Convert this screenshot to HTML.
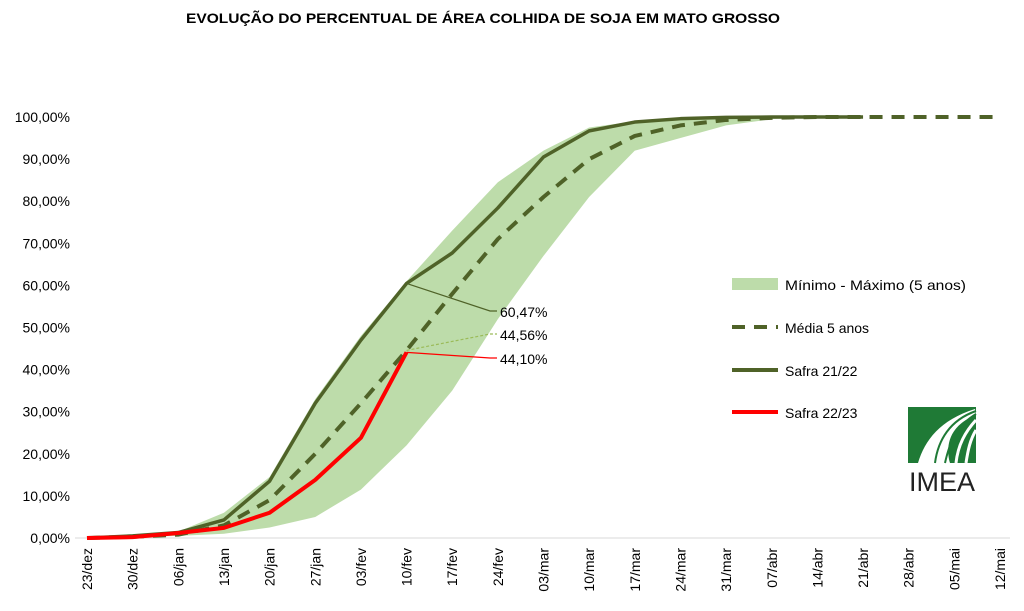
<!DOCTYPE html>
<html><head><meta charset="utf-8"><style>
body{margin:0;background:#fff;font-family:"Liberation Sans",sans-serif}
svg text{font-family:"Liberation Sans",sans-serif}
</style></head><body>
<svg id="c" width="1024" height="606" xmlns="http://www.w3.org/2000/svg">
<text x="483" y="23" text-anchor="middle" font-size="14" font-weight="bold" fill="#000" textLength="594" lengthAdjust="spacingAndGlyphs">EVOLUÇÃO DO PERCENTUAL DE ÁREA COLHIDA DE SOJA EM MATO GROSSO</text>
<g id="band"></g><g id="grid"></g><g id="lines"></g><g id="ylab"></g><g id="xlab"></g>
<g>
<rect x="732" y="278" width="46" height="12" fill="#bddcaa"/>
<text x="785" y="290" font-size="14" fill="#000" textLength="181" lengthAdjust="spacingAndGlyphs">Mínimo - Máximo (5 anos)</text>
<line x1="732" y1="327" x2="778" y2="327" stroke="#4f6228" stroke-width="4" stroke-dasharray="13,9"/>
<text x="785" y="333" font-size="14" fill="#000">Média 5 anos</text>
<line x1="732" y1="370" x2="778" y2="370" stroke="#4f6228" stroke-width="4"/>
<text x="785" y="376" font-size="14" fill="#000">Safra 21/22</text>
<line x1="732" y1="412" x2="778" y2="412" stroke="#ff0000" stroke-width="4"/>
<text x="785" y="418" font-size="14" fill="#000">Safra 22/23</text>
</g>
<g>
<rect x="908" y="407" width="68" height="56" fill="#1f7a36"/>
<path d="M918 463 C925 440 940 420 975 409 L976 415 C950 425 945 445 950 463 Z" fill="#fff"/>
<path d="M935 463 C938 440 950 420 976 411" stroke="#1f7a36" stroke-width="2" fill="none"/>
<path d="M945 463 C950 440 958 425 976 414" stroke="#1f7a36" stroke-width="2" fill="none"/>
<path d="M956 463 C958 445 965 432 976 420" stroke="#fff" stroke-width="3" fill="none"/>
<path d="M966 463 C968 450 970 440 976 430" stroke="#fff" stroke-width="3" fill="none"/>
<text x="942" y="491" text-anchor="middle" font-size="27" fill="#222" textLength="66">IMEA</text>
</g>
</svg>
<script>
const categories=["23/dez","30/dez","06/jan","13/jan","20/jan","27/jan","03/fev","10/fev","17/fev","24/fev","03/mar","10/mar","17/mar","24/mar","31/mar","07/abr","14/abr","21/abr","28/abr","05/mai","12/mai"];
const yTicks=[0,10,20,30,40,50,60,70,80,90,100];
const minVals=[0,0.2,0.5,1,2.5,5,11.5,22,35,52,67,81,92,95,98,99.5,100,100];
const maxVals=[0,0.5,1.5,6,14.5,33,48,61,73,84.5,92,97.5,99,99.8,100,100,100,100];
const media=[0,0.3,0.8,3,9,20,32,44.56,58,71,81,90,95.5,98,99.3,99.8,100,100,100,100,100];
const safra2122=[0,0.5,1.3,4.3,13.5,32,47,60.47,67.7,78.4,90.5,96.7,98.8,99.6,99.9,100,100,100];
const safra2223=[0,0.2,1.2,2.4,6,13.8,23.8,44.1];
const X=i=>87+i*45.65, Y=v=>538-v*4.21;
const NS="http://www.w3.org/2000/svg";
function mk(t,a,p){const e=document.createElementNS(NS,t);for(const k in a)e.setAttribute(k,a[k]);document.getElementById(p).appendChild(e);return e;}
let d="";maxVals.forEach((v,i)=>d+=(i?"L":"M")+X(i)+" "+Y(v));
for(let i=minVals.length-1;i>=0;i--)d+="L"+X(i)+" "+Y(minVals[i]);
let b=mk("path",{d:d+"Z",fill:"#bddcaa"},"band");


let ax=mk("line",{x1:75,x2:1010,y1:538,y2:538,stroke:"#d9d9d9","stroke-width":1},"grid");


function pl(arr,attrs,name){let p=mk("polyline",Object.assign({points:arr.map((v,i)=>X(i)+","+Y(v)).join(" "),fill:"none","stroke-linejoin":"round"},attrs),"lines");

}
pl(safra2122,{stroke:"#4f6228","stroke-width":3.5},"safra-2122-line");
pl(media,{stroke:"#4f6228","stroke-width":4,"stroke-dasharray":"13,9"},"media-5-anos-line");
pl(safra2223,{stroke:"#ff0000","stroke-width":4},"safra-2223-line");
const li=7;
[[safra2122[li],313,"#4f6228","60,47%"],[media[li],336,"#9bbb59","44,56%"],[safra2223[li],360,"#ff0000","44,10%"]].forEach((c,k)=>{
let l=mk("polyline",{points:X(li)+","+Y(c[0])+" 490,"+(c[1]-2)+" 497,"+(c[1]-2),fill:"none",stroke:c[2],"stroke-width":1.2,"stroke-dasharray":k==1?"3,2":"none"},"lines");


let t=mk("text",{x:500,y:c[1]+4,"font-size":14,fill:"#000"},"lines");t.textContent=c[3];

});
yTicks.forEach(v=>{let t=mk("text",{x:70,y:Y(v)+5,"text-anchor":"end","font-size":14,fill:"#000"},"ylab");t.textContent=v.toFixed(2).replace(".",",")+"%";

});
categories.forEach((c,i)=>{let t=mk("text",{x:0,y:0,"text-anchor":"end","font-size":14,fill:"#000",transform:"translate("+(X(i)+5)+",548) rotate(-90)"},"xlab");t.textContent=c;

});
</script>
</body></html>
